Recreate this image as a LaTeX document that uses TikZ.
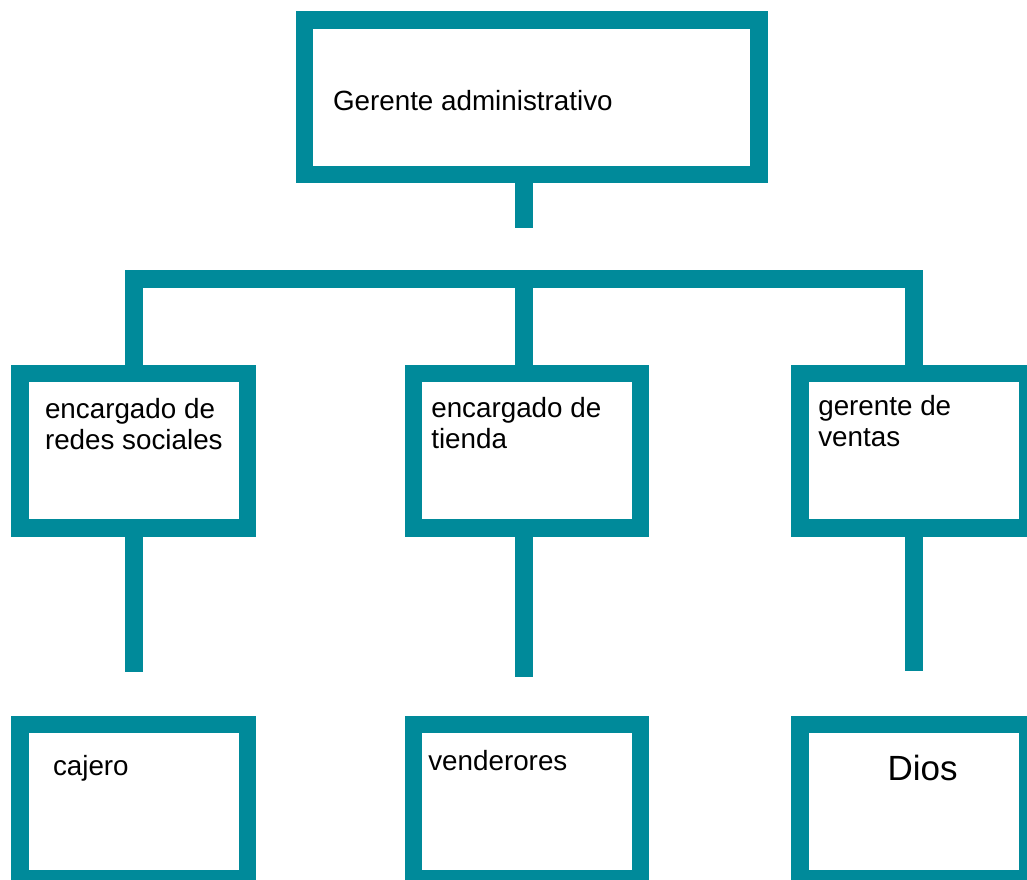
\documentclass[tikz,border=0pt]{standalone}
\usepackage{fontspec}
\setmainfont{Liberation Sans}
\definecolor{orgteal}{RGB}{0,138,154}
\tikzset{
  box/.style={draw=orgteal, line width=17.5pt, fill=white, rectangle, inner sep=0pt, outer sep=0pt},
  conn/.style={draw=orgteal, line width=17.4pt, line cap=butt, line join=miter},
  lbl/.style={inner sep=0pt, outer sep=0pt, align=left, text=black,
              font=\fontsize{27.8}{31}\selectfont, anchor=base west},
  biglbl/.style={lbl, font=\fontsize{35}{40}\selectfont}
}
\begin{document}
\begin{tikzpicture}[x=1pt,y=-1pt]
\useasboundingbox (0,0) rectangle (1027,879);
\clip (0,0) rectangle (1027,879);
% boxes (centre-line geometry)
\node[box, minimum width=454.5pt, minimum height=154.5pt] (top) at (531.55,97.05) {};
\node[box, minimum width=227.6pt, minimum height=154.5pt] (l1) at (133.8,450.75) {};
\node[box, minimum width=227.0pt, minimum height=154.5pt] (m1) at (527.0,450.75) {};
\node[box, minimum width=227.6pt, minimum height=154.5pt] (r1) at (914.0,450.75) {};
\node[box, minimum width=227.6pt, minimum height=154.5pt] (l2) at (133.8,801.6) {};
\node[box, minimum width=227.0pt, minimum height=154.5pt] (m2) at (527.0,801.6) {};
\node[box, minimum width=227.6pt, minimum height=154.5pt] (r2) at (914.0,801.6) {};
% free ends and bus
\coordinate (topend) at (524,227.7);
\coordinate (busL) at (133.9,278.9);
\coordinate (busM) at (524,278.9);
\coordinate (busR) at (914,278.9);
\coordinate (l1end) at (133.9,671.7);
\coordinate (m1end) at (524,677.3);
\coordinate (r1end) at (914,671.3);
% connectors
\draw[conn] (top.south -| topend) -- (topend);
\draw[conn] (l1.north -| busL) -- (busL) -- (busR) -- (r1.north -| busR);
\draw[conn] (busM) -- (m1.north -| busM);
\draw[conn] (l1.south -| l1end) -- (l1end);
\draw[conn] (m1.south -| m1end) -- (m1end);
\draw[conn] (r1.south -| r1end) -- (r1end);
% labels
\node[lbl] (ttop) at (333,110.7) {Gerente administrativo};
\node[lbl] (tl1) at (45,449) {encargado de\\redes sociales};
\node[lbl] (tm1) at (431.3,448) {encargado de\\tienda};
\node[lbl] (tr1) at (818.3,446.5) {gerente de\\ventas};
\node[lbl] (tl2) at (53,775) {cajero};
\node[lbl] (tm2) at (428.3,770) {venderores};
\node[biglbl] (tr2) at (887.5,780) {Dios};
\end{tikzpicture}
\end{document}
